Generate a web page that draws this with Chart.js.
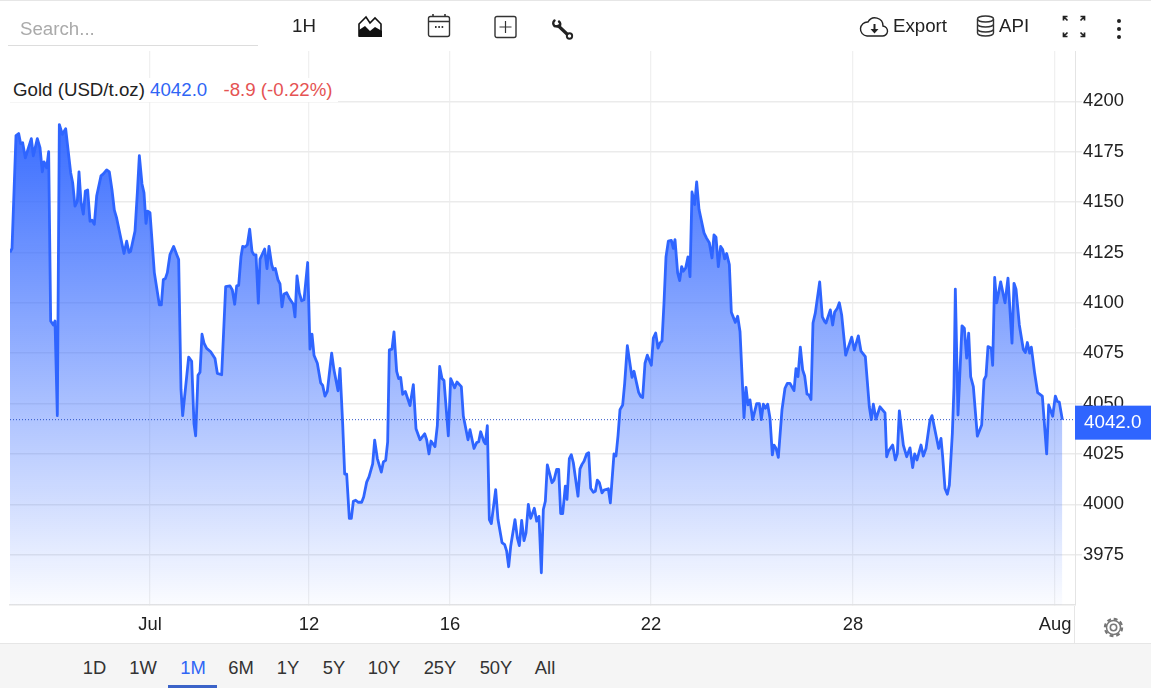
<!DOCTYPE html>
<html>
<head>
<meta charset="utf-8">
<title>Gold (USD/t.oz)</title>
<script src="https://cdn.jsdelivr.net/npm/chart.js@4"></script>
<style>
  html, body { margin: 0; padding: 0; background: #fff; }
  body { width: 1151px; height: 688px; position: relative; overflow: hidden;
         font-family: "Liberation Sans", Arial, sans-serif; color: #222; }
  #goldChart { position: absolute; left: 0; top: 0; }
  .abs { position: absolute; white-space: nowrap; }
  #topLine { left: 0; top: 0; width: 1151px; height: 1px; background: #e6e6e6; }
  #search { left: 8px; top: 16px; width: 238px; height: 29px; padding-left: 12px; line-height: 26px;
            border-bottom: 1px solid #ddd; color: #aaa; font-size: 18.7px; }
  .tool { font-size: 18.7px; color: #222; line-height: 20px; }
  #legendRow { left: 0; top: 78px; height: 24px; width: 338px; padding-left: 13px; box-sizing: border-box;
               background: #fff; font-size: 18.7px; line-height: 24px; color: #222; }
  #legendRow .last { color: #2f65f5; }
  #legendRow .chg { color: #e55353; margin-left: 11px; }
  #axisTail { left: 1074px; top: 606px; width: 1px; height: 37px; background: #e6e6e6; }
  #footer { left: 0; top: 643px; width: 1151px; height: 45px; background: #f5f5f5; border-top: 1px solid #e6e6e6; box-sizing: border-box; }
  .range { top: 656px; font-size: 18.4px; line-height: 24px; color: #333; transform: translateX(-50%); }
  .range.on { color: #2f65f5; }
  #rangeBar { left: 168px; top: 685px; width: 49px; height: 3px; background: #3b63c8; }
  svg.abs { overflow: visible; }
</style>
</head>
<body>
<canvas id="goldChart" width="1151" height="643"></canvas>

<div class="abs" id="topLine"></div>
<div class="abs" id="search">Search...</div>
<div class="abs tool" style="left:292px;top:16px">1H</div>

<svg class="abs" style="left:358px;top:15px" width="25" height="23" viewBox="0 0 25 23">
  <path d="M1 21V9L8 2l4 6 5-5 6 6v12z" fill="none" stroke="#111" stroke-width="1.6"/>
  <path d="M1 22v-7l6-4 5 5 5-4 7 4v6z" fill="#111"/>
</svg>
<svg class="abs" style="left:427px;top:13px" width="25" height="25" viewBox="0 0 25 25" fill="none" stroke="#333" stroke-width="1.4">
  <rect x="1.5" y="3.5" width="21" height="20" rx="2"/>
  <path d="M1.5 8.5h21M6 1v3M18 1v3" stroke-width="1.6"/>
  <path d="M8 14h1.6M11.3 14h1.6M14.6 14h1.6" stroke-width="1.8"/>
</svg>
<svg class="abs" style="left:494px;top:15px" width="24" height="24" viewBox="0 0 24 24" fill="none" stroke="#333" stroke-width="1.4">
  <rect x="1" y="1.5" width="21" height="21" rx="2"/>
  <path d="M11.5 6v12M5.5 12h12" stroke-width="1.2"/>
</svg>
<svg class="abs" style="left:552px;top:19px" width="22" height="21" viewBox="0 0 22 21" fill="none" stroke="#222" stroke-linecap="round">
  <path d="M2.500 1.500a3.600 3.600 0 0 0 0 5.500l3 .5" stroke-width="2.4"/>
  <path d="M7 2.500a3.600 3.600 0 0 1 .5 5" stroke-width="2.4"/>
  <path d="M6.500 7l8.500 8" stroke-width="3.2"/>
  <circle cx="17.500" cy="17" r="2.700" stroke-width="1.900"/>
</svg>

<svg class="abs" style="left:860px;top:15px" width="28" height="22" viewBox="0 0 28 22" fill="none" stroke="#222" stroke-width="1.4">
  <path d="M7 21h15a5 5 0 0 0 1-10A8 8 0 0 0 8 7a7 7 0 0 0-1 14z"/>
  <path d="M14.5 9v7" stroke-width="2"/>
  <path d="M10.5 14h8l-4 4.5z" fill="#222" stroke="none"/>
</svg>
<div class="abs tool" style="left:893px;top:16px">Export</div>
<svg class="abs" style="left:976px;top:15px" width="19" height="22" viewBox="0 0 19 22" fill="none" stroke="#333" stroke-width="1.4">
  <ellipse cx="9.5" cy="4" rx="8" ry="3"/>
  <path d="M1.5 4v14c0 1.700 3.600 3 8 3s8-1.300 8-3V4M1.500 9c0 1.700 3.600 3 8 3s8-1.300 8-3M1.500 14c0 1.700 3.600 3 8 3s8-1.300 8-3"/>
</svg>
<div class="abs tool" style="left:999px;top:16px">API</div>
<svg class="abs" style="left:1062px;top:15px" width="24" height="23" viewBox="0 0 24 23" fill="none" stroke="#222" stroke-width="1.7">
  <path d="M1.500 5.500V1.500H5.500M1.500 1.500l4 4M22.500 5.500V1.500H18.500M22.500 1.500l-4 4M1.500 17.500v4H5.500M1.500 21.500l4-4M22.500 17.500v4H18.500M22.500 21.500l-4-4"/>
</svg>
<svg class="abs" style="left:1116px;top:18px" width="6" height="21" viewBox="0 0 6 21" fill="#222">
  <circle cx="3" cy="3" r="2"/><circle cx="3" cy="11" r="2"/><circle cx="3" cy="19" r="2"/>
</svg>

<div class="abs" id="legendRow">Gold (USD/t.oz) <span class="last">4042.0</span> <span class="chg">-8.9 (-0.22%)</span></div>
<div class="abs" id="axisTail"></div>

<svg class="abs" style="left:1103px;top:617px" width="21" height="21" viewBox="0 0 21 21" fill="none" stroke="#777">
  <circle cx="10.500" cy="10.500" r="3.200" stroke-width="1.600"/>
  <circle cx="10.500" cy="10.500" r="7" stroke-width="1.500"/>
  <circle cx="10.500" cy="10.500" r="8.600" stroke-width="2.200" stroke-dasharray="3.900 2.850"/>
</svg>

<div class="abs" id="footer"></div>
<div id="ranges"></div>
<div class="abs" id="rangeBar"></div>

<script>
// trading time along the axis, in quarter hours from the first sample
const quarterHours = [
  0,6,18,26,32,38,46,64,70,82,90,97,102,110,116,122,130,135,142,148,157,167,182,188,195,202,207,213,220,226,233,240,246,253,260,273,280,290,298,306,313,320,342,350,357,362,375,382,388,396,402,408,413,420,433,448,454,460,466,472,480,491,500,506,513,518,536,545,552,557,564,570,576,582,590,602,615,622,635,647,660,667,674,680,686,693,698,705,712,719,726,732,738,745,750,764,771,777,785,790,796,804,810,816,822,830,838,850,855,861,868,875,882,893,900,906,912,922,932,938,945,952,965,972,984,990,998,1004,1010,1018,1024,1030,1037,1045,1055,1061,1070,1077,1088,1094,1102,1114,1120,1127,1133,1138,
  1146,1152,1160,1166,1172,1178,1186,1200,1210,1218,1230,1244,1250,1257,1263,1275,1282,1289,1296,1302,1315,1322,1334,1341,1354,1360,1374,1380,1392,1400,1406,1412,1422,1426,1432,1438,1444,1457,1464,1476,1484,1490,1496,1502,1515,1522,1528,1535,1542,1548,1555,1562,1573,1580,1587,1594,1600,1606,1612,1626,1632,1640,1646,1652,1658,1666,1671,1678,1684,1690,1704,1710,1716,1722,1730,1736,1742,1750,1756,1762,1768,1776,1782,1795,1801,1812,1818,1824,1830,
  1838,1844,1852,1866,1872,1880,1886,1892,1898,1905,1912,1924,1930,1937,1944,1950,1956,1962,1968,1975,1984,1990,1995,2003,2009,2015,2020,2027,2034,2040,2046,2054,2060,2067,2082,2090,2098,2106,2112,2118,2125,2132,2138,2144,2150,2158,2164,2176,2183,2190,2202,2208,2214,2220,2228,2240,2248,2254,2260,2266,2273,2280,2287,2292,2298,2305,2316,2325,2332,2340,
  2352,2358,2364,2371,2378,2384,2391,2397,2403,2409,2416,2429,2437,2444,2448,2461,2468,2474,2482,2488,2495,2507,2525,2533,2545,2553,2566,2578,2584,2590,2598,2610,2625,2630,2636,2648,2656,2662,2668,2680,2690,2700,2708,2714,2721,2733,2740,2748,2760,2766,2778,2786,2793,2798,2805,2812,
  2818,2827,2832,2836,2844,2856,2863,2870,2876,2882,2890,2902,2915,2922,2928,2934,2944,2948,2954,2960,2972,2985,2994,3006,3012,3018,3028,3040,3046,3052,3059,3064,3074,3083,3097,3110,3116,3128,3136,3142,3148,3157
];
const goldPrices = [
  4125,4127,4183,4184,4179,4179.5,4172,4181.5,4173,4181.5,4177,4165,4170,4167,4175,4091,4089,4091,4044,4188.5,4183.6,4186.4,4164.6,4159.6,4148,4150.5,4165,4150,4144,4155.5,4156,4140.5,4141,4139,4153,4163,4164,4166,4165,4156,4146,4142,4124.5,4130.6,4125,4125.6,4135.6,4154.6,4173,4159,4154.6,4139.4,4145.5,4144.7,4115,4099,4099,4111.6,4112,4115,4124,4128,4124,4121.5,4057,4044,4073,4071,4040,4034,4064,4065.5,4084.4,4080,4077.4,4075.7,4072.4,4065,4064.3,4108,4108.4,4106.4,4099.3,4108.4,4108.7,4123,4128,4127.7,4128.8,4136.6,4125.5,4123.8,4123.8,4099.8,4121.7,4126.7,4117,4128,4119,4116.4,4117,4111.4,4109.4,4098,4104.4,4105,4102.3,4099.3,4093,4113.4,4104.8,4101,4101.5,4120,4077,4084.5,4074,4070,4060.3,4059,4053.7,4056,4075,4066.6,4056.3,4067.5,4040,4015,4015,3993,3993,4001.5,4002,4001,4001,4003.6,4011,4013.6,4020,4031.8,4022.7,4016,4021,4021.8,4031,4076.6,
  4077,4085.6,4066,4062.4,4063,4054.6,4056,4049,4059.4,4037.5,4032,4035,4032,4025,4031.4,4028.6,4039,4068.4,4062.4,4061.4,4034,4062.4,4057.8,4060.7,4058.4,4043.8,4032,4037,4027.7,4030.6,4031,4036,4031,4030,4039,3992.4,3990.4,4007.3,3992.4,3981,3980,3976.7,3969,3979,3992.4,3983.3,3979.5,3992,3982,3985.8,3999.9,3993,3998,3991.6,3994,3966,3997.4,4001.5,4019.6,4010.7,4012,4017.3,4017.3,3995.4,3995.4,4009,4002.4,4022.6,4024.6,4020.6,4004,4017.6,4019.8,4021.4,4025,4025.6,4008,4006,4006.5,4012,4010.7,4005.7,4007,4007.7,4000.7,4025,4024,4034,4047,
  4049.3,4060,4078.7,4063,4066,4060,4055.5,4053.5,4053,4070,4074,4069,4082.5,4085,4077.5,4080,4081,4100,4122.8,4130.6,4131,4127,4131.4,4114.8,4111,4118,4115.7,4117.3,4122.8,4113,4155,4148.8,4160,4146.4,4134.7,4132,4129.8,4122.3,4133.7,4132.6,4118,4128,4126.5,4121.8,4124.5,4119,4095.3,4090.3,4093.3,4085.8,4043,4058,4049.3,4051.8,4042,4050,4050,4042,4049.7,4047.7,4049.7,4042.7,4024.5,4029.4,4027.8,4023.3,4047,4057.6,4060,4060,
  4056.4,4067.3,4063.4,4078,4066.7,4063.7,4054.7,4054.2,4052,4090,4095,4110.4,4093,4090.7,4090,4096.5,4089,4095.4,4097.3,4100,4094,4074,4083,4076.6,4083.6,4076,4073.3,4048.4,4042,4049.7,4042.3,4048.4,4045.4,4023.6,4026.5,4029.4,4022,4025,4046.4,4029.4,4023.6,4028,4018.2,4025,4022,4029.4,4023.9,4027.7,4041.8,4044,4034.3,4027.7,4032.7,4023.6,4007.8,4005,
  4009.5,4035,4058.4,4106.8,4044.3,4088.6,4087.4,4072.5,4085,4063.4,4058.4,4033.8,4039.3,4061.7,4063.7,4078.3,4077.4,4069,4112.6,4100,4110.4,4100,4112.3,4080,4109.7,4106.8,4089,4076.8,4075.3,4080.3,4075,4078,4065,4055.4,4053.7,4025,4049.3,4043.7,4053.7,4051,4050.7,4042
];
const lastPrice = 4042;
const priceTicks = [3975, 4000, 4025, 4050, 4075, 4100, 4125, 4150, 4175, 4200];
const dateTickPositions = [420, 897, 1320, 1923, 2529, 3135];
const dateTickLabels = ['Jul', '12', '16', '22', '28', 'Aug'];
const rangeLabels = ['1D', '1W', '1M', '6M', '1Y', '5Y', '10Y', '25Y', '50Y', 'All'];
const rangeCentres = [94.5, 143, 193, 241, 288, 334, 384, 440, 496, 545];

// bottom range buttons
const rangesEl = document.getElementById('ranges');
rangesEl.innerHTML = rangeLabels.map((label, i) =>
  `<div class="abs range${label === '1M' ? ' on' : ''}" style="left:${rangeCentres[i]}px">${label}</div>`
).join('');

const chartFont = { family: '"Liberation Sans", Arial, sans-serif', size: 18.4 };

// blue box on the price axis with the last value
const lastPriceBox = {
  id: 'lastPriceBox',
  afterDraw(chart) {
    const { ctx, scales: { y } } = chart;
    const py = y.getPixelForValue(lastPrice);
    ctx.save();
    ctx.fillStyle = '#2f65ff';
    ctx.fillRect(y.left, py - 14, chart.width - y.left, 34);
    ctx.fillStyle = '#fff';
    ctx.font = '18.8px "Liberation Sans", Arial, sans-serif';
    ctx.textBaseline = 'middle';
    ctx.textAlign = 'left';
    ctx.fillText(lastPrice.toFixed(1), y.left + 9, py + 3);
    ctx.restore();
  }
};

new Chart(document.getElementById('goldChart'), {
  type: 'line',
  data: {
    datasets: [
      {
        label: 'last',
        data: [{ x: 0, y: lastPrice }, { x: 3195, y: lastPrice }],
        borderColor: '#2f55c8',
        borderWidth: 1,
        borderDash: [1, 2],
        pointRadius: 0,
        fill: false
      },
      {
        label: 'Gold',
        data: quarterHours.map((t, i) => ({ x: t, y: goldPrices[i] })),
        borderColor: '#2f65ff',
        borderWidth: 2.8,
        pointRadius: 0,
        tension: 0,
        borderJoinStyle: 'round',
        fill: 'start',
        backgroundColor(context) {
          const area = context.chart.chartArea;
          if (!area) return 'rgba(47,101,255,0.5)';
          const grad = context.chart.ctx.createLinearGradient(0, 125, 0, area.bottom);
          grad.addColorStop(0, 'rgba(47,101,255,0.95)');
          grad.addColorStop(1, 'rgba(47,101,255,0.02)');
          return grad;
        }
      }
    ]
  },
  options: {
    responsive: false,
    animation: false,
    devicePixelRatio: 1,
    layout: { padding: { left: 10, top: 51, right: 0, bottom: 0 } },
    plugins: { legend: { display: false }, tooltip: { enabled: false } },
    scales: {
      x: {
        type: 'linear',
        min: 0,
        max: 3195,
        afterBuildTicks(axis) { axis.ticks = dateTickPositions.map(v => ({ value: v })); },
        afterFit(axis) { axis.height = 38; },
        grid: { color: '#f0f0f0', lineWidth: 1.3, tickLength: 0 },
        border: { color: '#e4e4e4', width: 1.5 },
        ticks: {
          color: '#222',
          font: chartFont,
          padding: 9,
          maxRotation: 0,
          autoSkip: false,
          callback(value) { return dateTickLabels[dateTickPositions.indexOf(value)]; }
        }
      },
      y: {
        position: 'right',
        min: 3950,
        max: 4225,
        afterBuildTicks(axis) { axis.ticks = priceTicks.map(v => ({ value: v })); },
        afterFit(axis) { axis.width = 76; },
        grid: { color: '#ebebeb', lineWidth: 1.5, tickLength: 7 },
        border: { color: '#e4e4e4' },
        ticks: {
          color: '#222',
          font: chartFont,
          padding: 1,
          callback(value) { return String(value); }
        }
      }
    }
  },
  plugins: [lastPriceBox]
});
</script>
</body>
</html>
